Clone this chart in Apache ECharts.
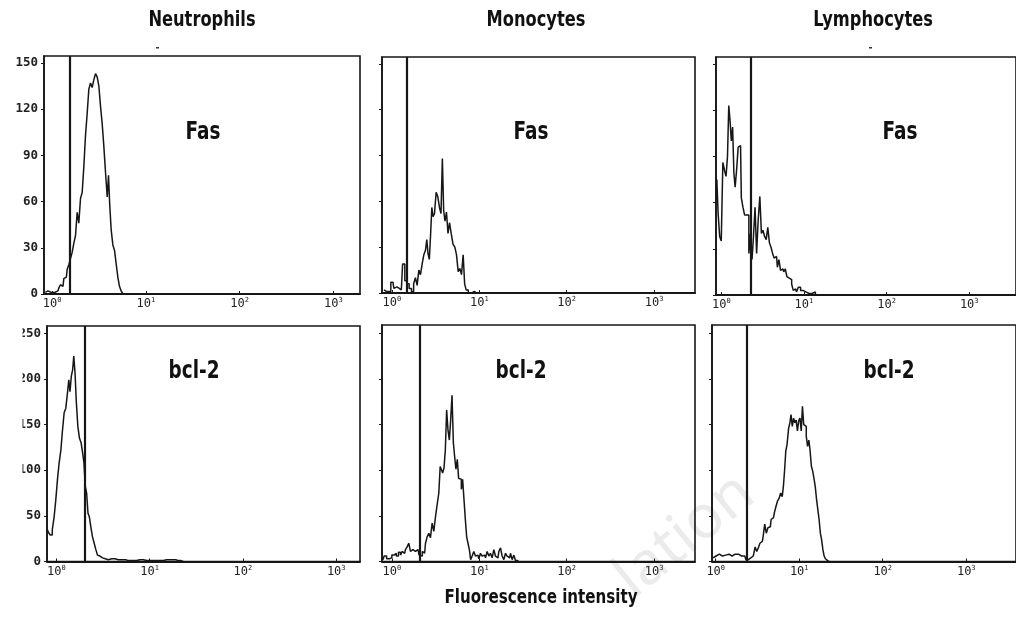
<!DOCTYPE html>
<html><head><meta charset="utf-8">
<script src="https://cdn.jsdelivr.net/npm/echarts@6/dist/echarts.min.js"></script>
<style>html,body{margin:0;padding:0;background:#fff}#c{width:1016px;height:617px}</style>
</head><body><div id="c"></div><script>
// ---- data (x = log10 fluorescence intensity, y = cell count) ----
const columnTitles = ['Neutrophils', 'Monocytes', 'Lymphocytes'];
const rowMarkers = ['Fas', 'bcl-2'];
const xAxisTitle = 'Fluorescence intensity';
const xTickDecades = [0, 1, 2, 3];
const yTicksFas = [0, 30, 60, 90, 120, 150];
const yTicksBcl2 = [0, 50, 100, 150, 200, 250];

const neutFasX = [-0.073,-0.045,-0.009,0.026,0.062,0.080,0.097,0.115,0.133,0.151,0.169,0.186,0.204,0.222,0.240,0.258,0.275,0.293,0.311,0.329,0.347,0.364,0.382,0.400,0.418,0.435,0.453,0.471,0.489,0.507,0.524,0.542,0.560,0.578,0.596,0.606,0.620,0.638,0.656,0.676,0.692,0.709,0.727,0.745,0.766,0.784];
const neutFasY = [1,2,1,1,2,4,6,5,10,11,16,19,23,27,33,38,53,46,62,66,83,103,117,133,137,134,139,143,141,135,122,111,96,79,63,77,59,42,32,28,19,11,5,2,0,0];

const monoFasX = [-0.090,-0.064,-0.037,0.013,0.032,0.058,0.085,0.108,0.138,0.158,0.184,0.211,0.238,0.260,0.279,0.299,0.318,0.337,0.356,0.375,0.394,0.405,0.421,0.436,0.451,0.463,0.478,0.497,0.516,0.535,0.554,0.570,0.585,0.600,0.615,0.634,0.650,0.669,0.688,0.711,0.730,0.749,0.768,0.787,0.806,0.825,0.840,0.859,0.890,0.928,0.966];
const monoFasY = [2,1,1,7,3,4,3,2,19,8,6,3,1,6,10,5,15,12,19,25,28,35,26,22,39,56,50,52,66,63,56,52,88,54,47,53,39,46,39,32,30,25,14,16,12,25,6,2,0,1,0];

const lymphFasX = [-0.060,-0.048,-0.029,-0.010,0.009,0.029,0.048,0.067,0.083,0.098,0.114,0.129,0.145,0.160,0.175,0.195,0.214,0.233,0.252,0.272,0.291,0.322,0.345,0.364,0.380,0.399,0.418,0.437,0.457,0.476,0.495,0.514,0.534,0.553,0.572,0.592,0.611,0.630,0.649,0.669,0.688,0.707,0.726,0.746,0.765,0.784,0.803,0.823,0.842,0.861,0.881,0.900,0.919,0.946,0.973,1.003,1.043,1.081,1.119,1.158];
const lymphFasY = [62,75,53,38,35,86,81,77,90,123,113,100,109,79,70,81,96,97,63,57,52,52,27,40,23,38,57,27,49,64,40,42,38,36,44,34,31,27,24,25,18,23,16,17,15,17,12,11,10,7,3,4,2,5,3,2,1,1,2,0];

const neutBclX = [-0.096,-0.075,-0.054,-0.032,-0.014,0.004,0.021,0.040,0.058,0.075,0.093,0.111,0.129,0.139,0.154,0.168,0.182,0.193,0.208,0.222,0.240,0.257,0.275,0.289,0.304,0.318,0.332,0.347,0.361,0.379,0.397,0.415,0.433,0.450,0.468,0.487,0.504,0.525,0.557,0.594,0.629,0.665,0.718,0.772,0.825,0.897,0.969,1.040,1.111,1.183,1.254,1.308,1.361];
const neutBclY = [35,32,29,35,49,68,90,108,122,144,163,168,185,199,186,203,210,225,207,174,148,135,130,119,108,82,75,53,49,38,27,20,13,7,6,4,2,3,2,3,3,2,2,1,1,2,1,1,1,2,2,1,0];

const monoBclX = [-0.102,-0.075,-0.045,-0.014,0.013,0.039,0.062,0.089,0.108,0.127,0.146,0.165,0.184,0.203,0.222,0.241,0.260,0.279,0.299,0.325,0.341,0.356,0.375,0.394,0.413,0.432,0.451,0.470,0.490,0.508,0.527,0.547,0.558,0.573,0.588,0.604,0.619,0.634,0.650,0.665,0.680,0.696,0.711,0.725,0.741,0.756,0.771,0.787,0.802,0.817,0.833,0.848,0.863,0.879,0.894,0.908,0.928,0.947,0.966,0.985,1.005,1.023,1.042,1.062,1.080,1.100,1.119,1.137,1.157,1.176,1.194,1.214,1.233,1.252,1.271,1.291,1.309,1.328,1.348,1.366,1.386,1.405,1.423,1.451];
const monoBclY = [2,6,3,4,7,9,6,10,7,11,9,13,16,20,11,13,11,9,13,7,6,11,9,20,27,31,26,42,33,49,62,75,104,101,97,102,122,166,144,133,155,182,130,115,101,112,91,90,79,90,68,46,27,20,13,2,6,11,6,7,3,9,6,7,4,11,6,9,4,13,6,4,11,15,6,2,9,6,4,9,2,7,1,0];

const lymphBclX = [-0.033,0.005,0.043,0.081,0.119,0.158,0.196,0.234,0.272,0.310,0.348,0.375,0.405,0.436,0.463,0.482,0.501,0.520,0.539,0.558,0.577,0.596,0.616,0.634,0.654,0.673,0.692,0.711,0.730,0.749,0.768,0.787,0.806,0.818,0.833,0.845,0.863,0.883,0.894,0.909,0.925,0.940,0.955,0.971,0.986,1.001,1.017,1.031,1.046,1.062,1.077,1.092,1.108,1.123,1.138,1.154,1.169,1.184,1.200,1.215,1.230,1.246,1.260,1.276,1.291,1.306,1.321,1.340,1.359];
const lymphBclY = [4,6,8,6,7,8,6,8,8,6,6,2,4,6,7,16,11,15,20,22,27,41,31,37,38,46,48,53,60,66,69,75,71,84,101,121,128,146,152,161,148,157,152,155,143,154,157,143,170,150,148,137,126,133,121,104,99,91,82,68,57,46,31,24,13,6,3,1,0];

// gate (marker) positions, log10 units
const gateFas = [0.19, 0.167, 0.356];
const gateBcl2 = [0.308, 0.316, 0.373];

// ---- layout ----
const panels = [
  {x: neutFasX,  y: neutFasY,  gate: gateFas[0],  left: 44,  top: 56,  width: 316, height: 238, xmin: -0.0875, xmax: 3.285, ymax: 154.5, yt: yTicksFas,  showY: true,  label: rowMarkers[0], lx: 203, ly: 132},
  {x: monoFasX,  y: monoFasY,  gate: gateFas[1],  left: 382, top: 57,  width: 313, height: 236, xmin: -0.113,  xmax: 3.468, ymax: 154.5, yt: yTicksFas,  showY: false, label: rowMarkers[0], lx: 531, ly: 132},
  {x: lymphFasX, y: lymphFasY, gate: gateFas[2],  left: 716, top: 57,  width: 314, height: 238, xmin: -0.064,  xmax: 3.566, ymax: 154.5, yt: yTicksFas,  showY: false, label: rowMarkers[0], lx: 900, ly: 132},
  {x: neutBclX,  y: neutBclY,  gate: gateBcl2[0], left: 47,  top: 326, width: 313, height: 235.5, xmin: -0.0997, xmax: 3.255, ymax: 258, yt: yTicksBcl2, showY: true,  label: rowMarkers[1], lx: 194, ly: 371},
  {x: monoBclX,  y: monoBclY,  gate: gateBcl2[1], left: 382, top: 325, width: 313, height: 236.5, xmin: -0.113,  xmax: 3.468, ymax: 259, yt: yTicksBcl2, showY: false, label: rowMarkers[1], lx: 521, ly: 371},
  {x: lymphBclX, y: lymphBclY, gate: gateBcl2[2], left: 712, top: 325, width: 318, height: 236.5, xmin: -0.0446, xmax: 3.596, ymax: 259, yt: yTicksBcl2, showY: false, label: rowMarkers[1], lx: 889, ly: 371}
];

const INK = '#161616';
const condensed = "'Liberation Sans Narrow','DejaVu Sans Condensed','DejaVu Sans',sans-serif";

const grid = [], xAxis = [], yAxis = [], series = [];
panels.forEach((p, i) => {
  grid.push({left: p.left, top: p.top, width: p.width, height: p.height, show: true,
    borderColor: INK, borderWidth: 1.6, backgroundColor: 'transparent', containLabel: false});
  xAxis.push({type: 'value', gridIndex: i, min: p.xmin, max: p.xmax,
    splitLine: {show: false},
    axisLine: {show: true, onZero: false, lineStyle: {color: INK, width: 1.8}},
    axisTick: {show: true, customValues: xTickDecades, length: 3, inside: true, lineStyle: {color: INK}},
    axisLabel: {show: true, customValues: xTickDecades, margin: 3,
      formatter: v => '{b|10}{s|' + Math.round(v) + '}',
      rich: {b: {fontSize: 12, fontFamily: 'DejaVu Sans Mono', color: '#222'},
             s: {fontSize: 7, fontFamily: 'DejaVu Sans Mono', color: '#222', padding: [0, 0, 7, 0]}}}
  });
  yAxis.push({type: 'value', gridIndex: i, min: 0, max: p.ymax,
    splitLine: {show: false},
    axisLine: {show: true, onZero: false, lineStyle: {color: INK, width: 1.6}},
    axisTick: {show: true, customValues: p.yt, length: 3, lineStyle: {color: INK}},
    axisLabel: {show: p.showY, customValues: p.yt, margin: 6, fontSize: 12.5,
      fontFamily: 'DejaVu Sans Mono', fontWeight: 'bold', color: '#222'}
  });
  const n = Math.min(p.x.length, p.y.length);
  const pts = [];
  for (let k = 0; k < n; k++) pts.push([p.x[k], p.y[k]]);
  series.push({type: 'line', xAxisIndex: i, yAxisIndex: i, data: pts, step: 'middle',
    symbol: 'none', clip: true, z: 3,
    lineStyle: {color: INK, width: 1.5},
    markLine: {silent: true, symbol: 'none', label: {show: false},
      lineStyle: {color: INK, width: 2.2, type: 'solid'},
      data: [{xAxis: p.gate}]}
  });
});

const graphic = [];
const titleX = [202, 536, 873];
columnTitles.forEach((t, i) => graphic.push({type: 'text', x: titleX[i], y: 21, scaleX: 0.86,
  style: {text: t, align: 'center', verticalAlign: 'middle', fill: '#111',
    fontSize: 21, fontWeight: 'bold', fontFamily: condensed}}));
panels.forEach(p => graphic.push({type: 'text', x: p.lx, y: p.ly, scaleX: 0.82,
  style: {text: p.label, align: 'center', verticalAlign: 'middle', fill: '#111',
    fontSize: 25, fontWeight: 'bold', fontFamily: condensed}}));
graphic.push({type: 'text', x: 541, y: 598, scaleX: 0.84,
  style: {text: xAxisTitle, align: 'center', verticalAlign: 'middle', fill: '#111',
    fontSize: 20, fontWeight: 'bold', fontFamily: condensed}});
// small stray tick marks above the first and third panels
graphic.push({type: 'rect', shape: {x: 156, y: 47, width: 3, height: 1.5}, style: {fill: '#333'}});
graphic.push({type: 'rect', shape: {x: 869, y: 47, width: 3, height: 1.5}, style: {fill: '#333'}});
// the original figure's crop edge hides the hundreds digit of the lower-left scale
graphic.push({type: 'rect', z: 100, shape: {x: 0, y: 318, width: 22.5, height: 175}, style: {fill: '#fff'}});
// faint watermark fragment
graphic.push({type: 'text', x: 685, y: 536, rotation: 0.68, z: -10,
  style: {text: 'lation', align: 'center', verticalAlign: 'middle', fill: '#ebebeb',
    fontSize: 60, fontFamily: "'Noto Sans',sans-serif"}});

const chart = echarts.init(document.getElementById('c'), null, {renderer: 'canvas'});
chart.setOption({backgroundColor: '#fff', animation: false, grid, xAxis, yAxis, series, graphic});
</script></body></html>
